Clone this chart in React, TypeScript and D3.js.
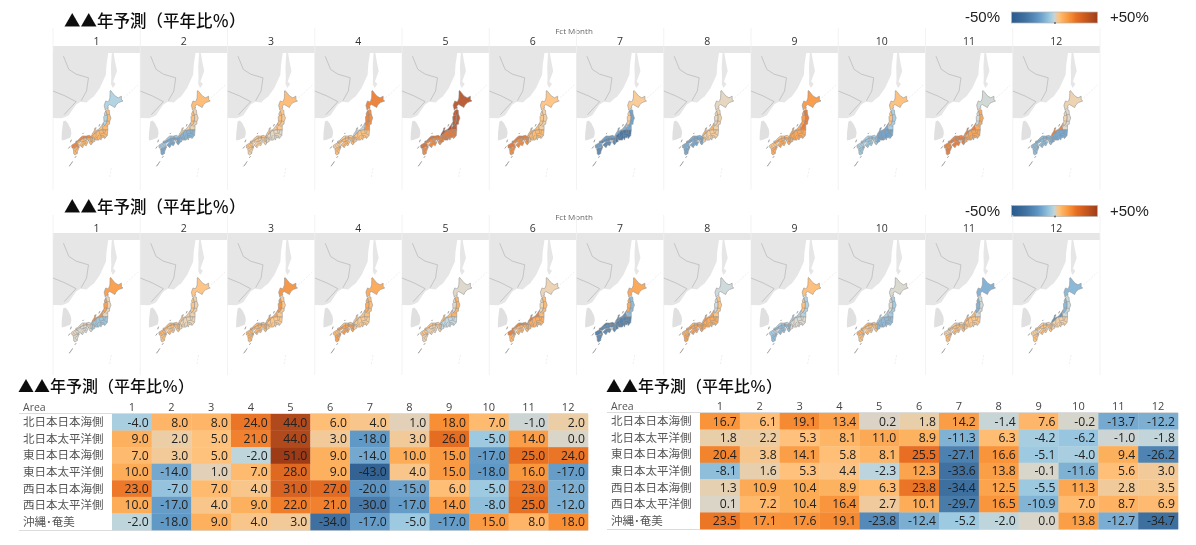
import * as d3 from 'd3';

const AREAS = ['北日本日本海側', '北日本太平洋側', '東日本日本海側', '東日本太平洋側', '西日本日本海側', '西日本太平洋側', '沖縄･奄美'];
const MONTHS = [1, 2, 3, 4, 5, 6, 7, 8, 9, 10, 11, 12];
const TITLE = '▲▲年予測（平年比％）';

const FORECAST_A = [
  [-4, 8, 8, 24, 44, 6, 4, 1, 18, 7, -1, 2],
  [9, 2, 5, 21, 44, 3, -18, 3, 26, -5, 14, 0],
  [7, 3, 5, -2, 51, 9, -14, 10, 15, -17, 25, 24],
  [10, -14, 1, 7, 28, 9, -43, 4, 15, -18, 16, -17],
  [23, -7, 7, 4, 31, 27, -20, -15, 6, -5, 23, -12],
  [10, -17, 4, 9, 22, 21, -30, -17, 14, -8, 25, -12],
  [-2, -18, 9, 4, 3, -34, -17, -5, -17, 15, 8, 18],
];
const FORECAST_B = [
  [16.7, 6.1, 19.1, 13.4, 0.2, 1.8, 14.2, -1.4, 7.6, -0.2, -13.7, -12.2],
  [1.8, 2.2, 5.3, 8.1, 11.0, 8.9, -11.3, 6.3, -4.2, -6.2, -1.0, -1.8],
  [20.4, 3.8, 14.1, 5.8, 8.1, 25.5, -27.1, 16.6, -5.1, -4.0, 9.4, -26.2],
  [-8.1, 1.6, 5.3, 4.4, -2.3, 12.3, -33.6, 13.8, -0.1, -11.6, 5.6, 3.0],
  [1.3, 10.9, 10.4, 8.9, 6.3, 23.8, -34.4, 12.5, -5.5, 11.3, 2.8, 3.5],
  [0.1, 7.2, 10.4, 16.4, 2.7, 10.1, -29.7, 16.5, -10.9, 7.0, 8.7, 6.9],
  [23.5, 17.1, 17.6, 19.1, -23.8, -12.4, -5.2, -2.0, 0.0, 13.8, -12.7, -34.7],
];

const COLOR_DOMAIN = [-50, -34, -18, -5, -2, 0, 2, 5, 10, 18, 25, 35, 44, 51];
const COLOR_RANGE = ['#2a5a8c', '#3f709f', '#6199c6', '#9ecae1', '#bfd5dc', '#d9d5c9', '#ebcda6', '#ffc27d', '#fdad58', '#f88f35', '#e86f24', '#cc5a1e', '#b04a1f', '#9c3a17'];

// geography, lon/lat
const CONTINENT = [[118, 60], [118, 39.6], [124, 39.7], [126.4, 39.6], [127.6, 39.9], [128.7, 40.3], [129.8, 41.4], [131, 42.6], [132.4, 43.2], [134.3, 43], [135.6, 43.8], [136.6, 44.3], [138.5, 46], [140.4, 48.6], [140.6, 50.5], [141.1, 52.4], [141.3, 56], [118, 56]];
const KOREA = [[129.2, 35.2], [129.5, 36.2], [129.3, 37.2], [128.4, 38.5], [127.6, 39.1], [126.9, 38.9], [126.7, 37.7], [126.5, 36.5], [126.4, 35], [126.5, 34.5], [127.5, 34.7], [128.5, 34.9]];
const SAKHALIN = [[142.7, 55], [142.7, 53], [143.3, 51], [143.9, 49.3], [142.7, 47.3], [143.5, 46.8], [142.6, 46], [142, 46.8], [142.1, 48], [142, 50], [142.2, 52], [142, 55]];
const BORDERS = [
  [[127, 52], [128.7, 49.6], [131, 48.7], [134.9, 48], [134.3, 45.4], [132.6, 43.4]],
  [[123.7, 45.4], [127.5, 44.4], [131, 43.2], [127.2, 40.4]],
];
const FAINT_ISLANDS = [
  [[146, 44], [148, 45.1], [150.5, 46.6]],
  [[142.1, 27.7], [141.5, 25]],
];

const HOKKAIDO = [[140.2, 41.4], [140.7, 41.75], [141.2, 41.8], [141, 42.3], [141.6, 42.6], [143.25, 41.95], [143.6, 42.5], [144.4, 43], [145.8, 43.35], [145.3, 43.6], [145.3, 44.35], [144.3, 44], [143.3, 44.4], [141.9, 45.5], [141.7, 45.4], [141.7, 44.9], [141.65, 43.95], [141.3, 43.3], [141, 43.2], [140.35, 43.35], [139.85, 42.45], [140.1, 41.85]];
const TOHOKU_WEST = [[140.35, 41.25], [140.75, 40.85], [140.9, 40], [140.8, 39], [140.5, 38.4], [139.8, 37.85], [139.55, 38.5], [139.8, 38.9], [139.7, 39.95], [140, 40.2], [139.9, 40.6], [140.2, 40.8]];
const TOHOKU_EAST = [[140.35, 41.25], [140.9, 41.55], [141.45, 41.4], [141.55, 40.55], [142, 39.65], [141.6, 38.9], [141.55, 38.3], [141, 38.2], [141, 37.7], [141, 37], [139.5, 37], [139.3, 37.5], [139.8, 37.85], [140.5, 38.4], [140.8, 39], [140.9, 40], [140.75, 40.85]];
const HOKURIKU = [[139.55, 38.5], [139, 37.95], [138.25, 37.2], [137.85, 37.05], [137.2, 36.8], [137, 36.9], [137.35, 37.5], [136.9, 37.4], [136.75, 36.9], [136.55, 36.6], [136, 36], [136.05, 35.7], [135.5, 35.5], [136, 35.5], [136.5, 35.9], [136.9, 36.1], [137.3, 36.4], [137.7, 36.8], [138.4, 36.9], [139.2, 37], [139.5, 37], [139.3, 37.5], [139.8, 37.85]];
const SADO = [[138.2, 37.8], [138.5, 38.3], [138.5, 38.05]];
const KANTO_TOKAI = [[141, 37], [140.85, 35.7], [140, 34.95], [139.85, 35.5], [139.65, 35.15], [139.1, 35.2], [138.85, 34.6], [138.5, 35.1], [138.2, 34.6], [137, 34.6], [136.7, 35], [136.9, 34.3], [136.2, 34.05], [136, 33.8], [135.95, 34.3], [136.1, 34.8], [136.2, 35.2], [136, 35.5], [136.5, 35.9], [136.9, 36.1], [137.3, 36.4], [137.7, 36.8], [138.4, 36.9], [139.2, 37], [139.5, 37]];
const SANIN = [[135.5, 35.5], [135.2, 35.75], [134.2, 35.55], [133.1, 35.6], [132.65, 35.4], [132.05, 34.9], [131.4, 34.45], [130.9, 34.35], [130.9, 33.95], [131.5, 34.15], [132.5, 34.7], [133.4, 35.05], [134.5, 35.15], [135.3, 35.1], [136.2, 35.2], [136, 35.5]];
const OKI = [[133.05, 36.05], [133.35, 36.3], [133.3, 36.05]];
const TSUSHIMA = [[129.2, 34.1], [129.5, 34.7], [129.45, 34.2]];
const GOTO = [[128.6, 32.6], [129.1, 33.1], [129, 32.7]];
const SANYO = [[130.9, 33.95], [131.3, 33.9], [132, 33.85], [132.4, 34.15], [133.9, 34.42], [134.6, 34.62], [135.2, 34.6], [135.35, 34.5], [135.05, 34.2], [135.35, 33.7], [135.75, 33.45], [136, 33.8], [135.95, 34.3], [136.1, 34.8], [136.2, 35.2], [135.3, 35.1], [134.5, 35.15], [133.4, 35.05], [132.5, 34.7], [131.5, 34.15]];
const SHIKOKU = [[134.7, 34.1], [134.2, 33.25], [133.55, 33.5], [133, 32.75], [132.5, 33.2], [131.95, 33.4], [132.7, 33.95], [133, 34.18], [134.05, 34.42], [134.7, 34.3]];
const AWAJI = [[134.7, 34.25], [135, 34.62], [134.95, 34.3]];
const KYUSHU_NORTH = [[130.95, 33.98], [131.7, 33.7], [131.75, 33.25], [132, 32.95], [131.2, 33], [130.6, 32.7], [130.3, 32.6], [129.7, 32.7], [129.55, 33.35], [129.9, 33.55], [130.4, 33.7]];
const KYUSHU_SOUTH = [[132, 32.95], [131.45, 31.9], [131.35, 31.35], [130.65, 31], [130.25, 31.25], [130.2, 32], [130.05, 32.4], [130.6, 32.7], [131.2, 33]];
const AMAMI = [[129.9, 29.4], [129.5, 28.9], [128.8, 28.2], [129.1, 28.4], [129.7, 29.1]];
const TANEGASHIMA = [[131, 30.7], [130.6, 30.3], [130.85, 30.35]];

const SHAPES_BY_AREA = [
  [HOKKAIDO, TOHOKU_WEST],
  [TOHOKU_EAST],
  [HOKURIKU, SADO],
  [KANTO_TOKAI],
  [SANIN, KYUSHU_NORTH, OKI, TSUSHIMA, GOTO],
  [SANYO, SHIKOKU, KYUSHU_SOUTH, AWAJI],
  [AMAMI, TANEGASHIMA],
];

const PREF_LINES = [
  [[140.9, 40.45], [141.55, 40.45]], [[140.75, 39], [141.6, 38.9]], [[140.3, 37.85], [141, 37.9]], [[140, 40.2], [140.9, 40.3]], [[139.85, 39], [140.8, 39]],
  [[140.3, 37], [140, 36.2]], [[139.4, 37], [139.7, 36.2]], [[140.8, 35.75], [139.7, 36.2], [138.7, 36.1]], [[139.8, 35.6], [139, 35.7], [138.6, 35.8]], [[139.15, 35.2], [139, 35.65]],
  [[138.6, 35.1], [138.6, 35.8], [138.2, 36.8]], [[137.7, 34.7], [137.7, 35.4], [138.2, 35.8]], [[137, 34.8], [137.5, 35.3]], [[136.7, 35.1], [137.3, 35.5], [137.3, 36.4]], [[136.7, 35], [136.3, 35.6]],
  [[137, 36.75], [136.9, 36.3]], [[136.7, 36.3], [136.6, 36.1]], [[134.4, 35.6], [134.5, 34.75]], [[135.5, 35.1], [135.4, 34.65]], [[135.7, 34.7], [135.6, 34.3]], [[135.35, 34.3], [136, 34.3]], [[136, 35], [135.7, 34.7]],
  [[133.4, 35.5], [133.4, 34.5]], [[132.5, 34.7], [132.2, 34.2]], [[134.3, 35.55], [134.3, 34.7]], [[130.5, 33.7], [131.1, 33.3], [131.7, 33]], [[130.2, 33.3], [130.5, 33]], [[130, 33.1], [130.3, 33.25]],
  [[130.6, 32.1], [131.3, 32.4], [131.6, 32.9]], [[130.5, 32.1], [131.1, 31.6], [131.4, 31.4]], [[133.3, 33.95], [133.8, 33.8], [134.2, 33.85]], [[132.6, 33], [133.3, 33.8]], [[133.7, 34.25], [134.2, 33.9]],
];

const color = d3.scaleLinear<string>().domain(COLOR_DOMAIN).range(COLOR_RANGE).interpolate(d3.interpolateRgb).clamp(true);

// the base map is stretched a little compared with plain mercator, so x and y get their own scales
const merc = (lat: number) => Math.log(Math.tan(Math.PI / 4 + (lat * Math.PI) / 360));
const lonX = d3.scaleLinear().domain([129.7, 145.8]).range([19, 70]);
const latY = d3.scaleLinear().domain([merc(45.5), merc(31)]).range([37.5, 102]);
const geo = d3.geoPath(
  d3.geoTransform({
    point(lon: number, lat: number) {
      this.stream.point(lonX(lon), latY(merc(lat)));
    },
  }),
);
const poly = (ring: number[][]) => geo({ type: 'Polygon', coordinates: [ring] } as any) || '';
const line = (pts: number[][]) => geo({ type: 'LineString', coordinates: pts } as any) || '';

const panelX = d3.scaleBand<number>().domain(MONTHS).range([53, 1100]);
const CJK = '"Noto Sans CJK JP", sans-serif';
const LATIN = '"Open Sans", "Noto Sans", sans-serif';
const ARIAL = '"Liberation Sans", sans-serif';

function BaseMap() {
  return (
    <g>
      <path d={poly(CONTINENT)} fill="#e6e6e6" />
      <path d={poly(KOREA)} fill="#e0e0e0" />
      <path d={poly(SAKHALIN)} fill="#e6e6e6" />
      {BORDERS.map((b, i) => (
        <path key={i} d={line(b)} fill="none" stroke="#b6b6b6" strokeWidth={0.7} />
      ))}
      {FAINT_ISLANDS.map((b, i) => (
        <path key={i} d={line(b)} fill="none" stroke="#e6e6e6" strokeWidth={0.7} strokeDasharray="2 1.5" />
      ))}
    </g>
  );
}

function MapRow({ data, top, id }: { data: number[][]; top: number; id: string }) {
  const bandTop = top - 7;
  const bottom = top + (top < 100 ? 137 : 135);
  const w = panelX.bandwidth();
  return (
    <g>
      <rect x={53} y={bandTop} width={1047} height={7} fill="#e6e6e6" />
      <clipPath id={id}>
        <rect x={0} y={0} width={w} height={bottom - top} />
      </clipPath>
      {MONTHS.map((m, mi) => (
        <g key={m}>
          <line x1={panelX(m)} x2={panelX(m)} y1={bandTop - 18} y2={bottom} stroke="#f0f0f0" strokeWidth={0.8} />
          <text x={(panelX(m) as number) + w / 2} y={bandTop - 1.5} textAnchor="middle" fontSize={10.5} fontFamily={LATIN} fill="#333">
            {m}
          </text>
          <g transform={`translate(${panelX(m)},${top})`} clipPath={`url(#${id})`}>
            <BaseMap />
            {SHAPES_BY_AREA.map((shapes, ai) =>
              shapes.map((s, si) => (
                <path key={`${ai}-${si}`} d={poly(s)} fill={color(data[ai][mi])} fillOpacity={0.88} stroke="#8f8f8f" strokeWidth={0.55} strokeLinejoin="round" />
              )),
            )}
            {PREF_LINES.map((p, i) => (
              <path key={i} d={line(p)} fill="none" stroke="#8f8f8f" strokeWidth={0.5} />
            ))}
          </g>
        </g>
      ))}
      <line x1={1100} x2={1100} y1={bandTop - 18} y2={bottom} stroke="#f0f0f0" strokeWidth={0.8} />
    </g>
  );
}

function Legend({ y }: { y: number }) {
  return (
    <g>
      <text x={965} y={y + 10} fontSize={15} fontFamily={ARIAL} fill="#222">-50%</text>
      <rect x={1011.5} y={y} width={86} height={11} fill="url(#legendRamp)" stroke="#b5b5b5" strokeWidth={0.7} />
      <circle cx={1055} cy={y + 11} r={1} fill="#666" />
      <text x={1110} y={y + 10} fontSize={15} fontFamily={ARIAL} fill="#222">+50%</text>
    </g>
  );
}

function HeatTable({ data, left, right, labelX, titleX, top, bottom }: { data: number[][]; left: number; right: number; labelX: number; titleX: number; top: number; bottom: number }) {
  const x = d3.scaleBand<number>().domain(MONTHS).range([left, right]);
  const y = d3.scaleBand<string>().domain(AREAS).range([top, bottom]);
  return (
    <g>
      <text x={titleX} y={391.5} fontSize={16} fontWeight={500} fontFamily={CJK} fill="#111">{TITLE}</text>
      <text x={labelX} y={top - 3.5} fontSize={10.5} fontFamily={LATIN} fill="#555">Area</text>
      {MONTHS.map((m) => (
        <text key={m} x={(x(m) as number) + x.bandwidth() / 2} y={top - 3} textAnchor="middle" fontSize={11} fontFamily={LATIN} fill="#444">{m}</text>
      ))}
      <line x1={labelX - 4} x2={right} y1={top - 0.5} y2={top - 0.5} stroke="#dcdcdc" />
      <line x1={labelX - 4} x2={right} y1={bottom + 0.5} y2={bottom + 0.5} stroke="#dcdcdc" />
      {AREAS.map((a, ai) => (
        <g key={a}>
          <text x={labelX} y={(y(a) as number) + y.bandwidth() / 2 + 4} fontSize={11.5} fontFamily={CJK} fill="#555">{a}</text>
          {MONTHS.map((m, mi) => (
            <g key={m}>
              <rect x={x(m)} y={y(a)} width={x.bandwidth() + 0.3} height={y.bandwidth() + 0.3} fill={color(data[ai][mi])} />
              <text x={(x(m) as number) + x.bandwidth() - 3} y={(y(a) as number) + y.bandwidth() / 2 + 4.3} textAnchor="end" fontSize={12.2} fontFamily={LATIN} fill="#222">
                {data[ai][mi].toFixed(1)}
              </text>
            </g>
          ))}
        </g>
      ))}
    </g>
  );
}

export default function App() {
  const ramp = d3.range(-50, 50.01, 5);
  return (
    <svg width={1196} height={545} style={{ position: 'absolute', left: 0, top: 0, display: 'block', background: '#fff' }}>
      <defs>
        <linearGradient id="legendRamp">
          {ramp.map((v) => (
            <stop key={v} offset={`${v + 50}%`} stopColor={v === 0 ? '#c8d4d4' : color(v)} />
          ))}
        </linearGradient>
        <filter id="soft" x="-2%" y="-2%" width="104%" height="104%">
          <feGaussianBlur stdDeviation={0.35} />
        </filter>
      </defs>
      <g filter="url(#soft)">
        <text x={64} y={27} fontSize={16.5} fontWeight={500} fontFamily={CJK} fill="#111">{TITLE}</text>
        <text x={574} y={33.5} textAnchor="middle" fontSize={8} fontFamily={LATIN} fill="#666">Fct Month</text>
        <Legend y={12} />
        <MapRow data={FORECAST_A} top={53} id="clipRowA" />

        <text x={64} y={212.5} fontSize={16.5} fontWeight={500} fontFamily={CJK} fill="#111">{TITLE}</text>
        <text x={574} y={220} textAnchor="middle" fontSize={8} fontFamily={LATIN} fill="#666">Fct Month</text>
        <Legend y={205.5} />
        <MapRow data={FORECAST_B} top={240} id="clipRowB" />

        <HeatTable data={FORECAST_A} left={112} right={588} labelX={23} titleX={18} top={414} bottom={530} />
        <HeatTable data={FORECAST_B} left={700} right={1178} labelX={611} titleX={606} top={413} bottom={529} />
      </g>
    </svg>
  );
}
